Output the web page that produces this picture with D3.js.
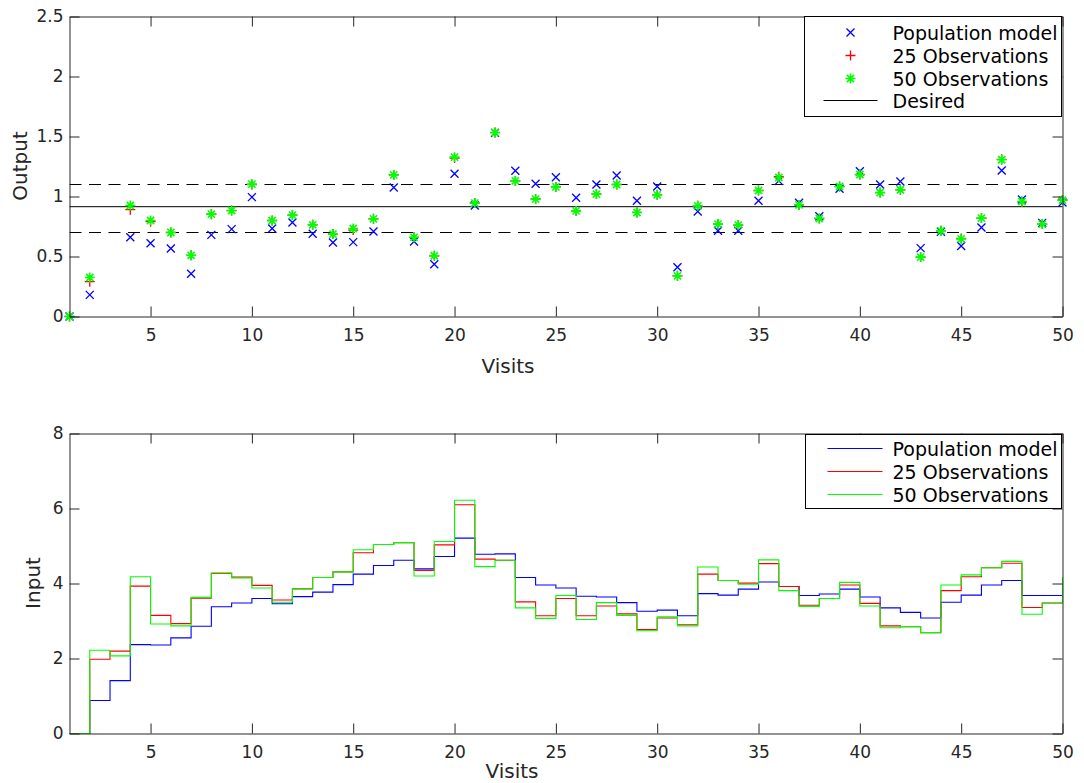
<!DOCTYPE html>
<html>
  <head>
    <meta charset="utf-8" />
    <script src="https://d3js.org/d3.v7.min.js"></script>
    <style>
      body { margin: 0; background: #fff; }
      text { font-family: 'DejaVu Sans', sans-serif; fill: #262626; }
    </style>
    <title>Output / Input per visit</title>
  </head>

  <body>
    <div id="chart"></div>
  </body>

  <script>
    // visits 1..50
    var visits = d3.range(1, 51);

    // top panel: output per visit (visit 3 has no marker)
    var outPop = [0, 0.18, null, 0.66, 0.61, 0.567, 0.356, 0.68, 0.728, 0.995,
      0.733, 0.783, 0.69, 0.617, 0.62, 0.708, 1.075, 0.625, 0.436, 1.19,
      0.925, 1.53, 1.214, 1.106, 1.16, 0.99, 1.10, 1.175, 0.964, 1.083,
      0.41, 0.875, 0.714, 0.714, 0.964, 1.13, 0.948, 0.836, 1.064, 1.21,
      1.10, 1.125, 0.57, 0.706, 0.587, 0.742, 1.217, 0.975, 0.78, 0.95];
    var out25 = [0, 0.29, null, 0.89, 0.79, 0.70, 0.51, 0.853, 0.883, 1.10,
      0.80, 0.845, 0.764, 0.687, 0.72, 0.814, 1.18, 0.66, 0.506, 1.32,
      0.945, 1.533, 1.13, 0.98, 1.08, 0.88, 1.02, 1.10, 0.867, 1.014,
      0.339, 0.922, 0.77, 0.762, 1.05, 1.165, 0.93, 0.817, 1.083, 1.183,
      1.033, 1.056, 0.495, 0.714, 0.65, 0.82, 1.31, 0.958, 0.77, 0.97];
    var out50 = [0, 0.325, null, 0.925, 0.80, 0.70, 0.51, 0.853, 0.883, 1.103,
      0.80, 0.845, 0.764, 0.687, 0.733, 0.814, 1.18, 0.66, 0.506, 1.328,
      0.945, 1.533, 1.13, 0.978, 1.08, 0.88, 1.02, 1.10, 0.867, 1.014,
      0.339, 0.922, 0.77, 0.762, 1.05, 1.158, 0.93, 0.817, 1.083, 1.183,
      1.033, 1.056, 0.495, 0.714, 0.647, 0.82, 1.306, 0.958, 0.77, 0.97];
    var desired = 0.915;
    var bounds = [0.7, 1.1];

    // bottom panel: input per visit (stairs)
    var inPop = [0, 0.88, 1.41, 2.37, 2.36, 2.55, 2.86, 3.38, 3.48, 3.6,
      3.46, 3.65, 3.77, 3.97, 4.25, 4.48, 4.62, 4.39, 4.72, 5.21,
      4.78, 4.79, 4.16, 3.96, 3.88, 3.66, 3.64, 3.49, 3.26, 3.29,
      3.14, 3.73, 3.69, 3.85, 4.04, 3.92, 3.68, 3.72, 3.85, 3.64,
      3.35, 3.23, 3.08, 3.50, 3.69, 3.96, 4.08, 3.68, 3.68, 3.68];
    var in25 = [0, 1.98, 2.196, 3.93, 3.15, 2.93, 3.61, 4.27, 4.17, 3.95,
      3.56, 3.86, 4.16, 4.31, 4.82, 5.04, 5.09, 4.35, 5.03, 6.10,
      4.65, 4.62, 3.51, 3.14, 3.60, 3.14, 3.40, 3.19, 2.77, 3.08,
      2.90, 4.25, 4.08, 4.01, 4.53, 3.92, 3.42, 3.60, 3.96, 3.47,
      2.87, 2.85, 2.69, 3.81, 4.18, 4.42, 4.54, 3.36, 3.48, 3.48];
    var in50 = [0, 2.22, 2.07, 4.18, 2.92, 2.87, 3.63, 4.28, 4.15, 3.88,
      3.50, 3.85, 4.16, 4.31, 4.90, 5.04, 5.09, 4.20, 5.12, 6.22,
      4.45, 4.62, 3.35, 3.07, 3.68, 3.04, 3.49, 3.15, 2.74, 3.11,
      2.87, 4.44, 4.08, 3.98, 4.63, 3.81, 3.39, 3.60, 4.03, 3.40,
      2.82, 2.85, 2.69, 3.96, 4.23, 4.42, 4.59, 3.18, 3.48, 4.17];

    var xTicks = [5, 10, 15, 20, 25, 30, 35, 40, 45, 50];
    var seriesNames = ['Population model', '25 Observations', '50 Observations'];
    var colors = ['#0000ff', '#ff0000', '#00ff00'];

    var width = 1084,
      height = 783;

    var svg = d3
      .select('#chart')
      .append('svg')
      .attr('width', width)
      .attr('height', height);

    var x = d3.scaleLinear().domain([1, 50]).range([69.5, 1062.5]);
    var yTop = d3.scaleLinear().domain([0, 2.5]).range([316.5, 16.5]);
    var yBot = d3.scaleLinear().domain([0, 8]).range([733.5, 433.5]);

    // draws a matlab style box with inward ticks
    function drawBox(y, yTicks, yFormat) {
      var g = svg.append('g');
      var r = y.range();
      var xr = x.range();

      g.append('g')
        .attr('transform', 'translate(0,' + r[0] + ')')
        .call(d3.axisBottom(x).tickValues(xTicks).tickSize(-10).tickSizeOuter(0).tickPadding(12))
        .call(styleAxis);
      g.append('g')
        .attr('transform', 'translate(0,' + r[1] + ')')
        .call(d3.axisTop(x).tickValues(xTicks).tickSize(-10).tickSizeOuter(0).tickFormat(''))
        .call(styleAxis);
      g.append('g')
        .attr('transform', 'translate(' + xr[0] + ',0)')
        .call(d3.axisLeft(y).tickValues(yTicks).tickSize(-10).tickSizeOuter(0).tickPadding(6).tickFormat(yFormat))
        .call(styleAxis);
      g.append('g')
        .attr('transform', 'translate(' + xr[1] + ',0)')
        .call(d3.axisRight(y).tickValues(yTicks).tickSize(-10).tickSizeOuter(0).tickFormat(''))
        .call(styleAxis);
    }

    function styleAxis(sel) {
      sel.select('.domain').attr('stroke', '#262626');
      sel.selectAll('.tick line').attr('stroke', '#262626');
      sel.selectAll('.tick text')
        .attr('fill', '#262626')
        .style('font-size', '17px')
        .style('font-family', 'DejaVu Sans');
    }

    // ---------- top panel ----------
    var gTop = svg.append('g');

    // desired value and limits
    gTop.append('line')
      .attr('x1', x(1)).attr('x2', x(50))
      .attr('y1', yTop(desired)).attr('y2', yTop(desired))
      .attr('stroke', '#000').attr('stroke-width', 1);
    bounds.forEach(function (b) {
      gTop.append('line')
        .attr('x1', x(1)).attr('x2', x(50))
        .attr('y1', yTop(b)).attr('y2', yTop(b))
        .attr('stroke', '#000').attr('stroke-width', 1)
        .attr('stroke-dasharray', '12,7.5');
    });

    var crossPath = 'M-4,-4L4,4M-4,4L4,-4';
    var plusPath = 'M-5,0L5,0M0,-5L0,5';
    var starPath = 'M-5,0L5,0M0,-5L0,5M-3.6,-3.6L3.6,3.6M-3.6,3.6L3.6,-3.6';
    var markers = [crossPath, plusPath, starPath];

    [outPop, out25, out50].forEach(function (vals, i) {
      gTop.append('g')
        .selectAll('path')
        .data(visits.filter((v) => vals[v - 1] != null))
        .join('path')
        .attr('transform', (v) => 'translate(' + x(v) + ',' + yTop(vals[v - 1]) + ')')
        .attr('d', markers[i])
        .attr('fill', 'none')
        .attr('stroke', colors[i])
        .attr('stroke-width', i == 2 ? 1.6 : 1.3);
    });

    drawBox(yTop, [0, 0.5, 1, 1.5, 2, 2.5], (d) => d);

    svg.append('text')
      .attr('x', 508).attr('y', 373)
      .attr('text-anchor', 'middle')
      .style('font-size', '20px')
      .text('Visits');
    svg.append('text')
      .attr('transform', 'translate(27,166) rotate(-90)')
      .attr('text-anchor', 'middle')
      .style('font-size', '20px')
      .text('Output');

    // top legend
    var legTop = svg.append('g').attr('transform', 'translate(804.5,16.5)');
    legTop.append('rect')
      .attr('width', 257).attr('height', 100)
      .attr('fill', '#fff').attr('stroke', '#000');
    var topRows = [16, 39, 62, 84];
    seriesNames.concat(['Desired']).forEach(function (name, i) {
      if (i < 3) {
        legTop.append('path')
          .attr('transform', 'translate(46,' + topRows[i] + ')')
          .attr('d', markers[i])
          .attr('fill', 'none')
          .attr('stroke', colors[i])
          .attr('stroke-width', i == 2 ? 1.6 : 1.3);
      } else {
        legTop.append('line')
          .attr('x1', 19).attr('x2', 73)
          .attr('y1', topRows[i]).attr('y2', topRows[i])
          .attr('stroke', '#000');
      }
      legTop.append('text')
        .attr('x', 88).attr('y', topRows[i] + 7)
        .style('font-size', '19px')
        .style('fill', '#000')
        .text(name);
    });

    // ---------- bottom panel ----------
    var gBot = svg.append('g');
    var stairs = d3.line()
      .x((d) => x(d[0]))
      .y((d) => yBot(d[1]))
      .curve(d3.curveStepAfter);

    [inPop, in25, in50].forEach(function (vals, i) {
      gBot.append('path')
        .datum(visits.map((v) => [v, vals[v - 1]]))
        .attr('d', stairs)
        .attr('fill', 'none')
        .attr('stroke', colors[i])
        .attr('stroke-width', 1.1);
    });

    drawBox(yBot, [0, 2, 4, 6, 8], (d) => d);

    svg.append('text')
      .attr('x', 512).attr('y', 778)
      .attr('text-anchor', 'middle')
      .style('font-size', '20px')
      .text('Visits');
    svg.append('text')
      .attr('transform', 'translate(40,583) rotate(-90)')
      .attr('text-anchor', 'middle')
      .style('font-size', '20px')
      .text('Input');

    // bottom legend
    var legBot = svg.append('g').attr('transform', 'translate(805.5,434.5)');
    legBot.append('rect')
      .attr('width', 256).attr('height', 74)
      .attr('fill', '#fff').attr('stroke', '#000');
    var botRows = [14, 37, 60];
    seriesNames.forEach(function (name, i) {
      legBot.append('line')
        .attr('x1', 22).attr('x2', 77)
        .attr('y1', botRows[i]).attr('y2', botRows[i])
        .attr('stroke', colors[i])
        .attr('stroke-width', 1.2);
      legBot.append('text')
        .attr('x', 87).attr('y', botRows[i] + 7)
        .style('font-size', '19px')
        .style('fill', '#000')
        .text(name);
    });
  </script>
</html>
